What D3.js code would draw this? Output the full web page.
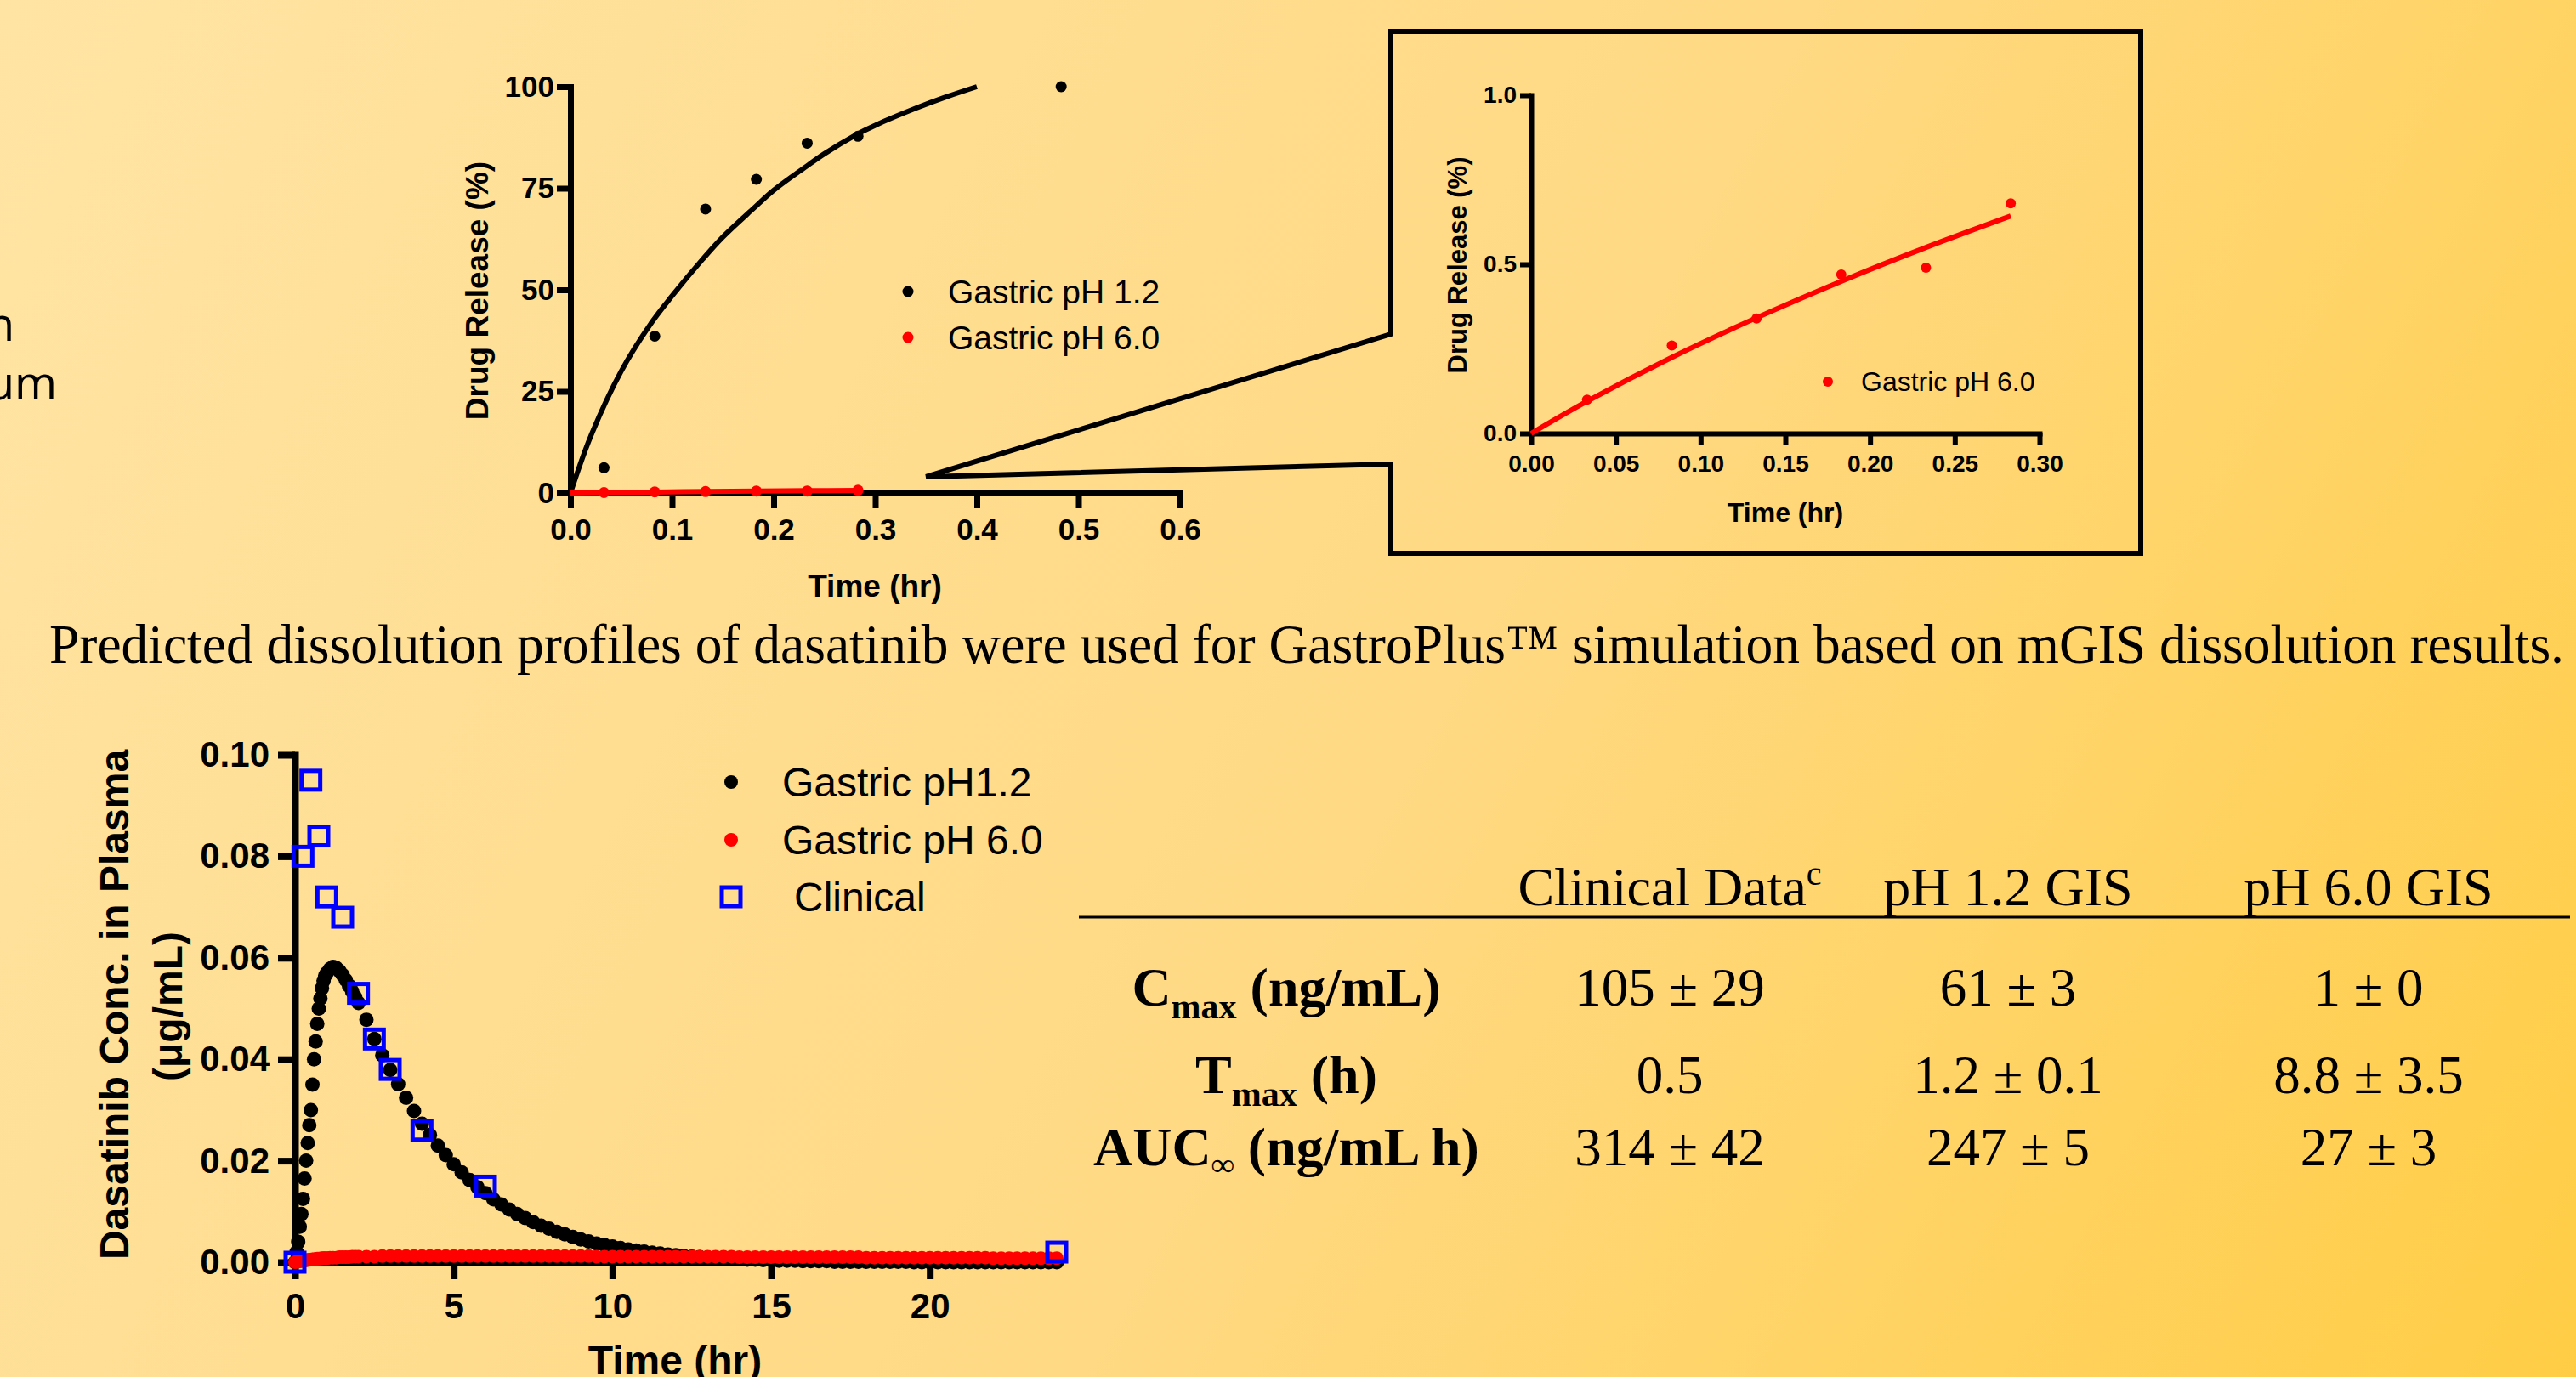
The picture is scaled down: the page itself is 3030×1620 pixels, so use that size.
<!DOCTYPE html>
<html>
<head>
<meta charset="utf-8">
<script src="https://cdn.jsdelivr.net/npm/d3@7"></script>
<style>
  html, body { margin: 0; padding: 0; }
  svg { display: block; }
</style>
</head>
<body>
<svg id="poster" width="3030" height="1620"></svg>
<script>
const ARIAL = "'Liberation Sans', Arial, sans-serif";
const TIMES = "'Liberation Serif', 'Times New Roman', serif";

// mGIS dissolution data (time in hr, release in %)
const dissTimePH12 = [0.033, 0.083, 0.133, 0.183, 0.233, 0.283, 0.483];
const dissPH12 = [6.2, 38.6, 69.9, 77.2, 86.1, 87.8, 100];
const dissTimePH60 = [0.033, 0.083, 0.133, 0.183, 0.233, 0.283];
const dissPH60 = [0.10, 0.26, 0.34, 0.47, 0.49, 0.68];

// fitted release curves
const fitTimePH12 = [0, 0.02, 0.05, 0.08, 0.10, 0.13, 0.15, 0.18, 0.20, 0.23, 0.25, 0.28, 0.30, 0.34, 0.37, 0.40];
const fitPH12 = [0, 14, 30, 42, 48.5, 57.5, 63, 70, 74.5, 80, 83.5, 88, 90.5, 94.7, 97.5, 100];
const fitTimePH60 = [0, 0.033, 0.083, 0.133, 0.183, 0.233, 0.283];
const fitPH60 = [0, 0.095, 0.225, 0.342, 0.45, 0.55, 0.643];

const releaseTicksX = [0, 0.1, 0.2, 0.3, 0.4, 0.5, 0.6];
const releaseTicksY = [0, 25, 50, 75, 100];
const insetTicksX = [0, 0.05, 0.10, 0.15, 0.20, 0.25, 0.30];
const insetTicksY = [0, 0.5, 1.0];

// GastroPlus simulated plasma profiles (hr, ug/mL)
const simTime = [
  0, 0.05, 0.1, 0.15, 0.2, 0.25, 0.3, 0.35, 0.4, 0.45, 0.5, 0.55, 0.6, 0.65, 0.7, 0.75, 0.8, 0.85, 0.9, 0.95, 1.0,
  1.1, 1.2, 1.3, 1.4, 1.5, 1.6, 1.7, 1.8, 1.9, 2.0,
  2.25, 2.5, 2.75,
  3, 3.25, 3.5, 3.75,
  4, 4.25, 4.5, 4.75,
  5, 5.25, 5.5, 5.75,
  6, 6.25, 6.5, 6.75,
  7, 7.25, 7.5, 7.75,
  8, 8.25, 8.5, 8.75,
  9, 9.25, 9.5, 9.75,
  10, 10.25, 10.5, 10.75,
  11, 11.25, 11.5, 11.75,
  12, 12.25, 12.5, 12.75,
  13, 13.25, 13.5, 13.75,
  14, 14.25, 14.5, 14.75,
  15, 15.25, 15.5, 15.75,
  16, 16.25, 16.5, 16.75,
  17, 17.25, 17.5, 17.75,
  18, 18.25, 18.5, 18.75,
  19, 19.25, 19.5, 19.75,
  20, 20.25, 20.5, 20.75,
  21, 21.25, 21.5, 21.75,
  22, 22.25, 22.5, 22.75,
  23, 23.25, 23.5, 23.75,
  24
];
const simPH12 = [
  0, 0.002, 0.004, 0.007, 0.0095, 0.0125, 0.0165, 0.020, 0.0235, 0.027, 0.030, 0.035, 0.040, 0.0435, 0.047, 0.050, 0.052, 0.054, 0.0555, 0.0565, 0.057,
  0.0578, 0.0582, 0.058, 0.0574, 0.0566, 0.0556, 0.0545, 0.0534, 0.0522, 0.0511,
  0.0478, 0.0440, 0.0408,
  0.0379, 0.0351, 0.0324, 0.0298,
  0.0273, 0.0251, 0.0230, 0.0211,
  0.0193, 0.0177, 0.0162, 0.0148,
  0.0136, 0.0124, 0.0114, 0.0104,
  0.0095, 0.0087, 0.0079, 0.0072,
  0.0066, 0.0060, 0.0055, 0.0050,
  0.0045, 0.0041, 0.0037, 0.0034,
  0.0031, 0.0028, 0.0025, 0.0023,
  0.0021, 0.0019, 0.0017, 0.0015,
  0.0014, 0.0012, 0.0011, 0.0010,
  0.0009, 0.0008, 0.0007, 0.0007,
  0.0006, 0.0005, 0.0005, 0.0004,
  0.0004, 0.0003, 0.0003, 0.0003,
  0.0002, 0.0002, 0.0002, 0.0002,
  0.0001, 0.0001, 0.0001, 0.0001,
  0.0001, 0.0001, 0.0001, 0.0001,
  0.0001, 0.0001, 0, 0,
  0, 0, 0, 0,
  0, 0, 0, 0,
  0, 0, 0, 0,
  0, 0, 0, 0,
  0
];
const simPH60 = [
  0, 0.0001, 0.0001, 0.0002, 0.0002, 0.0003, 0.0003, 0.0004, 0.0004, 0.0005, 0.0005, 0.0006, 0.0006, 0.0006, 0.0007, 0.0007, 0.0007, 0.0008, 0.0008, 0.0008, 0.0008,
  0.0009, 0.0009, 0.0009, 0.0010, 0.0010, 0.0010, 0.0010, 0.0011, 0.0011, 0.0011,
  0.0011, 0.0011, 0.0012,
  0.0012, 0.0012, 0.0012, 0.0012,
  0.0012, 0.0012, 0.0012, 0.0012,
  0.0012, 0.0012, 0.0012, 0.0012,
  0.0012, 0.0012, 0.0012, 0.0012,
  0.0012, 0.0012, 0.0012, 0.0012,
  0.0012, 0.0012, 0.0012, 0.0012,
  0.0012, 0.0012, 0.0011, 0.0011,
  0.0011, 0.0011, 0.0011, 0.0011,
  0.0011, 0.0011, 0.0011, 0.0011,
  0.0011, 0.0011, 0.0011, 0.0011,
  0.0011, 0.0011, 0.0011, 0.0011,
  0.0010, 0.0010, 0.0010, 0.0010,
  0.0010, 0.0010, 0.0010, 0.0010,
  0.0010, 0.0010, 0.0010, 0.0010,
  0.0010, 0.0010, 0.0010, 0.0010,
  0.0009, 0.0009, 0.0009, 0.0009,
  0.0009, 0.0009, 0.0009, 0.0009,
  0.0009, 0.0009, 0.0009, 0.0009,
  0.0009, 0.0009, 0.0009, 0.0009,
  0.0008, 0.0008, 0.0008, 0.0008,
  0.0008, 0.0008, 0.0008, 0.0008,
  0.0008
];
// clinical observations
const clinTime = [0, 0.25, 0.5, 0.75, 1, 1.5, 2, 2.5, 3, 4, 6, 24];
const clinConc = [0, 0.080, 0.095, 0.084, 0.072, 0.068, 0.053, 0.044, 0.038, 0.026, 0.015, 0.002];
const plasmaTicksX = [0, 5, 10, 15, 20];
const plasmaTicksY = [0, 0.02, 0.04, 0.06, 0.08, 0.10];

// PK table
const tableColumns = ['Clinical Data', 'pH 1.2 GIS', 'pH 6.0 GIS'];
const rowMain = ['C', 'T', 'AUC'];
const rowSub = ['max', 'max', '∞'];
const rowUnit = ['(ng/mL)', '(h)', '(ng/mL h)'];
const clinicalVals = ['105 ± 29', '0.5', '314 ± 42'];
const gis12Vals = ['61 ± 3', '1.2 ± 0.1', '247 ± 5'];
const gis60Vals = ['1 ± 0', '8.8 ± 3.5', '27 ± 3'];

const caption = 'Predicted dissolution profiles of dasatinib were used for GastroPlus™ simulation based on mGIS dissolution results.';

const svg = d3.select('#poster');

// Background gradient
const grad = svg.append('defs').append('linearGradient').attr('id', 'bg')
    .attr('gradientUnits', 'userSpaceOnUse')
    .attr('x1', 0).attr('y1', 0).attr('x2', 3030).attr('y2', 1620);
grad.append('stop').attr('offset', '0%').attr('stop-color', '#FFE4A4');
grad.append('stop').attr('offset', '55%').attr('stop-color', '#FFD983');
grad.append('stop').attr('offset', '100%').attr('stop-color', '#FFCD45');
svg.append('rect').attr('width', 3030).attr('height', 1620).attr('fill', 'url(#bg)');

// leftover text from the neighbouring panel
svg.append('text').attr('x', 17).attr('y', 401).attr('text-anchor', 'end')
    .style('font-family', "'Open Sans', sans-serif").style('font-size', '54px').text('n');
svg.append('text').attr('x', 67).attr('y', 470).attr('text-anchor', 'end')
    .style('font-family', "'Open Sans', sans-serif").style('font-size', '54px').text('um');

function styleAxis(sel, fontSize, strokeW) {
    sel.attr('font-family', null).attr('font-size', null);
    sel.select('.domain').attr('stroke', '#000').attr('stroke-width', strokeW).attr('stroke-linecap', 'square');
    sel.selectAll('.tick line').attr('stroke', '#000').attr('stroke-width', strokeW);
    sel.selectAll('.tick text').attr('fill', '#000')
        .style('font-family', ARIAL).style('font-weight', 'bold').style('font-size', fontSize + 'px');
}

function axisTitle(g, text, cx, cy, size, rotate) {
    g.append('text')
        .attr('transform', `translate(${cx},${cy})` + (rotate ? ' rotate(-90)' : ''))
        .attr('text-anchor', 'middle').attr('dy', '0.35em')
        .style('font-family', ARIAL).style('font-weight', 'bold').style('font-size', size + 'px')
        .text(text);
}

function legendItem(g, cx, cy, color, label, textX, size, r, square) {
    if (square) {
        g.append('rect').attr('x', cx - 11).attr('y', cy - 11).attr('width', 22).attr('height', 22)
            .attr('fill', 'none').attr('stroke', color).attr('stroke-width', 5);
    } else {
        g.append('circle').attr('cx', cx).attr('cy', cy).attr('r', r).attr('fill', color);
    }
    g.append('text').attr('x', textX).attr('y', cy).attr('dy', '0.35em')
        .style('font-family', ARIAL).style('font-size', size + 'px').text(label);
}

// ---- Top: drug release chart
function createReleaseChart() {
    const g = svg.append('g');
    const x = d3.scaleLinear().domain([0, 0.6]).range([671, 1388]);
    const y = d3.scaleLinear().domain([0, 100]).range([580, 102]);

    g.append('g').attr('transform', 'translate(0,580)')
        .call(d3.axisBottom(x).tickValues(releaseTicksX).tickFormat(d3.format('.1f')).tickSize(18).tickSizeOuter(0).tickPadding(12))
        .call(styleAxis, 35, 7);
    g.append('g').attr('transform', 'translate(671,0)')
        .call(d3.axisLeft(y).tickValues(releaseTicksY).tickSize(16).tickSizeOuter(0).tickPadding(3))
        .call(styleAxis, 35, 7);

    axisTitle(g, 'Drug Release (%)', 561, 342, 37, true);
    axisTitle(g, 'Time (hr)', 1029, 689, 37, false);

    const line = d3.line().curve(d3.curveCatmullRom);
    g.append('path').datum(fitTimePH12.map((t, i) => [x(t), y(fitPH12[i])]))
        .attr('fill', 'none').attr('stroke', '#000').attr('stroke-width', 6).attr('d', line);
    g.append('path').datum(fitTimePH60.map((t, i) => [x(t), y(fitPH60[i])]))
        .attr('fill', 'none').attr('stroke', '#FF0000').attr('stroke-width', 6).attr('d', line);

    g.selectAll('.dot12').data(dissTimePH12).enter().append('circle')
        .attr('cx', d => x(d)).attr('cy', (d, i) => y(dissPH12[i])).attr('r', 6.5).attr('fill', '#000');
    g.selectAll('.dot60').data(dissTimePH60).enter().append('circle')
        .attr('cx', d => x(d)).attr('cy', (d, i) => y(dissPH60[i])).attr('r', 6.5).attr('fill', '#FF0000');

    legendItem(g, 1068, 343, '#000', 'Gastric pH 1.2', 1115, 39, 6.5);
    legendItem(g, 1068, 397, '#FF0000', 'Gastric pH 6.0', 1115, 39, 6.5);

    return { x, y };
}

// ---- Zoomed inset of pH 6.0 release
function createInsetChart() {
    const g = svg.append('g');
    const x = d3.scaleLinear().domain([0, 0.3]).range([1801, 2399]);
    const y = d3.scaleLinear().domain([0, 1]).range([510, 112]);

    g.append('g').attr('transform', 'translate(0,510)')
        .call(d3.axisBottom(x).tickValues(insetTicksX).tickFormat(d3.format('.2f')).tickSize(14).tickSizeOuter(0).tickPadding(11))
        .call(styleAxis, 28, 6);
    g.append('g').attr('transform', 'translate(1801,0)')
        .call(d3.axisLeft(y).tickValues(insetTicksY).tickFormat(d3.format('.1f')).tickSize(13).tickSizeOuter(0).tickPadding(4))
        .call(styleAxis, 28, 6);

    axisTitle(g, 'Drug Release (%)', 1714, 312, 31, true);
    axisTitle(g, 'Time (hr)', 2100, 603, 32, false);

    g.append('path').datum(fitTimePH60.map((t, i) => [x(t), y(fitPH60[i])]))
        .attr('fill', 'none').attr('stroke', '#FF0000').attr('stroke-width', 6)
        .attr('d', d3.line().curve(d3.curveCatmullRom));
    g.selectAll('.dot60').data(dissTimePH60).enter().append('circle')
        .attr('cx', d => x(d)).attr('cy', (d, i) => y(dissPH60[i])).attr('r', 6).attr('fill', '#FF0000');

    legendItem(g, 2150, 449, '#FF0000', 'Gastric pH 6.0', 2189, 32, 6);
}

// callout frame linking the top chart to the inset
function drawCallout(x, y) {
    const ax = x(0.35), ay = y(4);
    const path = d3.path();
    path.moveTo(ax, ay);
    path.lineTo(1636, 393);
    path.lineTo(1636, 37);
    path.lineTo(2518, 37);
    path.lineTo(2518, 651);
    path.lineTo(1636, 651);
    path.lineTo(1636, 546);
    path.closePath();
    svg.append('path').attr('d', path.toString()).attr('fill', 'none')
        .attr('stroke', '#000').attr('stroke-width', 6).attr('stroke-linejoin', 'miter');
}

// ---- Bottom: plasma concentration chart
function createPlasmaChart() {
    const g = svg.append('g');
    const x = d3.scaleLinear().domain([0, 24]).range([347, 1243]);
    const y = d3.scaleLinear().domain([0, 0.1]).range([1485, 888]);

    g.append('g').attr('transform', 'translate(0,1485)')
        .call(d3.axisBottom(x).tickValues(plasmaTicksX).tickFormat(d3.format('d')).tickSize(20).tickSizeOuter(0).tickPadding(16))
        .call(styleAxis, 42, 8);
    g.append('g').attr('transform', 'translate(347,0)')
        .call(d3.axisLeft(y).tickValues(plasmaTicksY).tickFormat(d3.format('.2f')).tickSize(20).tickSizeOuter(0).tickPadding(10))
        .call(styleAxis, 42, 8);

    axisTitle(g, 'Dasatinib Conc. in Plasma', 134, 1182, 48, true);
    axisTitle(g, '(μg/mL)', 197, 1184, 48, true);
    axisTitle(g, 'Time (hr)', 794, 1600, 48, false);

    g.selectAll('.sim12').data(simTime).enter().append('circle')
        .attr('cx', d => x(d)).attr('cy', (d, i) => y(simPH12[i])).attr('r', 8.5).attr('fill', '#000');
    g.selectAll('.sim60').data(simTime).enter().append('circle')
        .attr('cx', d => x(d)).attr('cy', (d, i) => y(simPH60[i])).attr('r', 8).attr('fill', '#FF0000');
    g.selectAll('.clin').data(clinTime).enter().append('rect')
        .attr('x', d => x(d) - 11).attr('y', (d, i) => y(clinConc[i]) - 11)
        .attr('width', 22).attr('height', 22)
        .attr('fill', 'none').attr('stroke', '#0000FF').attr('stroke-width', 5);

    legendItem(g, 860, 920, '#000', 'Gastric pH1.2', 920, 48, 8);
    legendItem(g, 860, 988, '#FF0000', 'Gastric pH 6.0', 920, 48, 8);
    legendItem(g, 860, 1055, '#0000FF', 'Clinical', 934, 48, 8, true);
}

// ---- PK parameter table
function createTable() {
    const g = svg.append('g').style('font-family', TIMES);
    const colX = [1964, 2362, 2786];

    const head = g.selectAll('.head').data(tableColumns).enter().append('text')
        .attr('x', (d, i) => colX[i]).attr('y', 1065).attr('text-anchor', 'middle')
        .style('font-size', '64px');
    head.append('tspan').text(d => d);
    head.filter((d, i) => i === 0).append('tspan').attr('dy', -24).style('font-size', '40px').text('c');

    g.append('line').attr('x1', 1269).attr('x2', 3023).attr('y1', 1079).attr('y2', 1079)
        .attr('stroke', '#000').attr('stroke-width', 3);

    const rowY = [1183, 1286, 1371];
    rowMain.forEach((m, i) => {
        const t = g.append('text').attr('x', 1513).attr('y', rowY[i]).attr('text-anchor', 'middle')
            .style('font-weight', 'bold').style('font-size', '64px');
        t.append('tspan').text(m);
        const subSize = i === 2 ? 38 : 42;
        t.append('tspan').attr('dy', i === 2 ? 12 : 15).style('font-size', subSize + 'px').text(rowSub[i]);
        t.append('tspan').attr('dy', i === 2 ? -12 : -15).text(' ' + rowUnit[i]);
    });

    [clinicalVals, gis12Vals, gis60Vals].forEach((vals, c) => {
        g.selectAll('.col' + c).data(vals).enter().append('text')
            .attr('x', colX[c]).attr('y', (d, i) => rowY[i]).attr('text-anchor', 'middle')
            .style('font-size', '63px').text(d => d);
    });
}

const releaseScales = createReleaseChart();
createInsetChart();
drawCallout(releaseScales.x, releaseScales.y);

svg.append('text').attr('x', 58).attr('y', 780)
    .attr('textLength', 2958).attr('lengthAdjust', 'spacingAndGlyphs')
    .style('font-family', TIMES).style('font-size', '65px').text(caption);

createPlasmaChart();
createTable();
</script>
</body>
</html>
